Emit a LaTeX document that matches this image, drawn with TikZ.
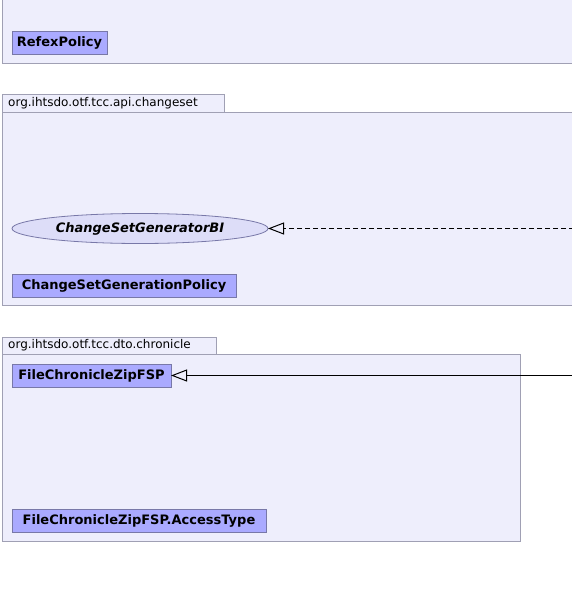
\documentclass[tikz,border=0pt]{standalone}
\usepackage{fontspec}
\setmainfont{DejaVu Sans}
\usetikzlibrary{arrows.meta,shapes.geometric}
\definecolor{pkgfill}{HTML}{EEEEFC}
\definecolor{pkgline}{HTML}{A0A0B4}
\definecolor{clsfill}{HTML}{AAAAFF}
\definecolor{clsline}{HTML}{7878A8}
\definecolor{ifill}{HTML}{DDDDF8}
\tikzset{
  pkg/.style={draw=pkgline, fill=pkgfill, line width=0.8pt},
  pkglabel/.style={font=\fontsize{12}{14}\selectfont, anchor=west, inner sep=0pt},
  cls/.style={draw=clsline, fill=clsfill, line width=0.8pt, rectangle, anchor=north west,
    font=\fontsize{13}{15}\selectfont\bfseries, inner sep=0pt, outer sep=0pt, minimum height=23pt},
  iface/.style={draw=clsline, fill=ifill, line width=0.8pt, ellipse, outer sep=0pt,
    font=\fontsize{13}{15}\selectfont\bfseries\itshape, inner sep=0pt, minimum width=256pt, minimum height=30pt},
  realize/.style={-{Triangle[open, length=16pt, width=12pt]}, dash pattern=on 5pt off 3pt, line width=1pt},
  gen/.style={-{Triangle[open, length=16pt, width=12pt]}, line width=1pt}
}
\begin{document}
\begin{tikzpicture}[x=1pt, y=-1pt]
\useasboundingbox (0,0) rectangle (572,597);
\clip (0,0) rectangle (572,597);
% package 1 (top, cut off)
\draw[pkg] (2,-5) rectangle (576,63);
\node[cls, minimum width=95pt] (refex) at (12,31) {RefexPolicy};
% package 2
\draw[pkg] (2,94) rectangle (224,112);
\node[pkglabel] (lab2) at (8,103) {org.ihtsdo.otf.tcc.api.changeset};
\draw[pkg] (2,112) rectangle (576,305);
\node[iface] (csg) at (140,228.5) {ChangeSetGeneratorBI};
\node[cls, minimum width=224pt] (csgp) at (12,274) {ChangeSetGenerationPolicy};
\coordinate (r1) at (574,228.5);
\draw[realize] (r1) -- (r1 -| csg.east);
% package 3
\draw[pkg] (2,337) rectangle (216,354);
\node[pkglabel] (lab3) at (8,345.5) {org.ihtsdo.otf.tcc.dto.chronicle};
\draw[pkg] (2,354) rectangle (520,541);
\node[cls, minimum width=159pt] (fcz) at (12,364) {FileChronicleZipFSP};
\node[cls, minimum width=254pt] (fcza) at (12,509) {FileChronicleZipFSP.AccessType};
\coordinate (r2) at (574,375.5);
\draw[gen] (r2) -- (r2 -| fcz.east);
\end{tikzpicture}
\end{document}
